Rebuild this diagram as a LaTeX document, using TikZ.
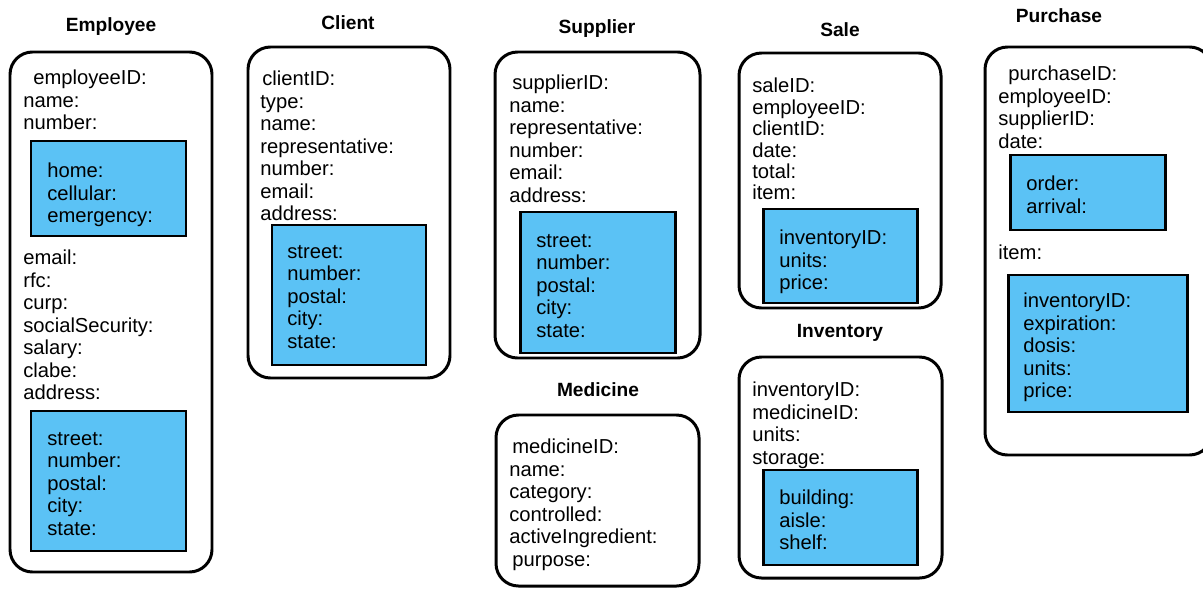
\documentclass[tikz,border=0pt]{standalone}
\usepackage{fontspec}
\setmainfont{Liberation Sans}
\usepackage{tikz}
\usetikzlibrary{positioning}

\definecolor{fieldblue}{RGB}{91,194,245}
\newcommand{\fieldfont}{\fontsize{11.5}{12.8}\selectfont}
\newcommand{\tightfont}{\fontsize{11.5}{12.15}\selectfont}
\newcommand{\titlefont}{\fontsize{10.9}{12}\selectfont\bfseries}

\begin{document}
\begin{tikzpicture}[x=0.02cm, y=-0.02cm]
        \tikzset{
            entity/.style={draw, line width=1.7pt, rounded corners=0.45cm},
            group/.style={draw, line width=1.7pt, fill=fieldblue},
            fields/.style={anchor=north west, inner sep=0pt, align=left, font=\fieldfont},
            title/.style={inner sep=0pt, font=\titlefont}
        }
        \clip (0,0) rectangle (1203,588);

        % Employee
        \node[title] (emp-title) at (111,27) {Employee};
        \draw[entity] (10,52) rectangle (212,572);
        \node[fields] (emp-main) at (23,70) {\hspace*{0.2cm}employeeID:\\name:\\number:};
        \draw[group] (31,141) rectangle (186,236);
        \node[fields] (emp-phone) at (47,163) {home:\\cellular:\\emergency:};
        \node[fields] (emp-rest) at (23,250) {email:\\rfc:\\curp:\\socialSecurity:\\salary:\\clabe:\\address:};
        \draw[group] (31,411) rectangle (186,551);
        \node[fields] (emp-addr) at (47,432) {street:\\number:\\postal:\\city:\\state:};

        % Client
        \node[title] (cli-title) at (348,23) {Client};
        \draw[entity] (248,47) rectangle (450,378);
        \node[fields] (cli-main) at (260,71) {\hspace*{0.04cm}clientID:\\type:\\name:\\representative:\\number:\\email:\\address:};
        \draw[group] (272,225) rectangle (426,365);
        \node[fields] (cli-addr) at (287,245) {street:\\number:\\postal:\\city:\\state:};

        % Supplier
        \node[title] (sup-title) at (597,29) {Supplier};
        \draw[entity] (495,52) rectangle (700,358);
        \node[fields] (sup-main) at (509,75) {\hspace*{0.06cm}supplierID:\\name:\\representative:\\number:\\email:\\address:};
        \draw[group] (520,212) rectangle (675,353);
        \node[fields] (sup-addr) at (536,234) {street:\\number:\\postal:\\city:\\state:};

        % Medicine
        \node[title] (med-title) at (598,390) {Medicine};
        \draw[entity] (496,415) rectangle (699,586);
        \node[fields] (med-main) at (509,439) {\hspace*{0.06cm}medicineID:\\name:\\category:\\controlled:\\activeIngredient:\\\hspace*{0.06cm}purpose:};

        % Sale
        \node[title] (sale-title) at (840,30) {Sale};
        \draw[entity] (739,53) rectangle (941,308);
        \node[fields, font=\tightfont] (sale-main) at (752,78) {saleID:\\employeeID:\\clientID:\\date:\\total:\\item:};
        \draw[group] (763,209) rectangle (917,303);
        \node[fields] (sale-item) at (779,230) {inventoryID:\\units:\\price:};

        % Inventory
        \node[title] (inv-title) at (840,333) {Inventory};
        \draw[entity] (739,357) rectangle (942,578);
        \node[fields] (inv-main) at (752,382) {inventoryID:\\medicineID:\\units:\\storage:};
        \draw[group] (763,470) rectangle (917,565);
        \node[fields] (inv-store) at (779,490) {building:\\aisle:\\shelf:};

        % Purchase
        \node[title] (pur-title) at (1059,16) {Purchase};
        \draw[entity] (985,47) rectangle (1212,455);
        \node[fields] (pur-main) at (998,66) {\hspace*{0.2cm}purchaseID:\\employeeID:\\supplierID:\\date:};
        \draw[group] (1010,155) rectangle (1165,230);
        \node[fields] (pur-date) at (1026,176) {order:\\arrival:};
        \node[fields] (pur-itemlbl) at (998,245) {item:};
        \draw[group] (1008,275) rectangle (1187,412);
        \node[fields] (pur-item) at (1023,293) {inventoryID:\\expiration:\\dosis:\\units:\\price:};
\end{tikzpicture}
\end{document}
